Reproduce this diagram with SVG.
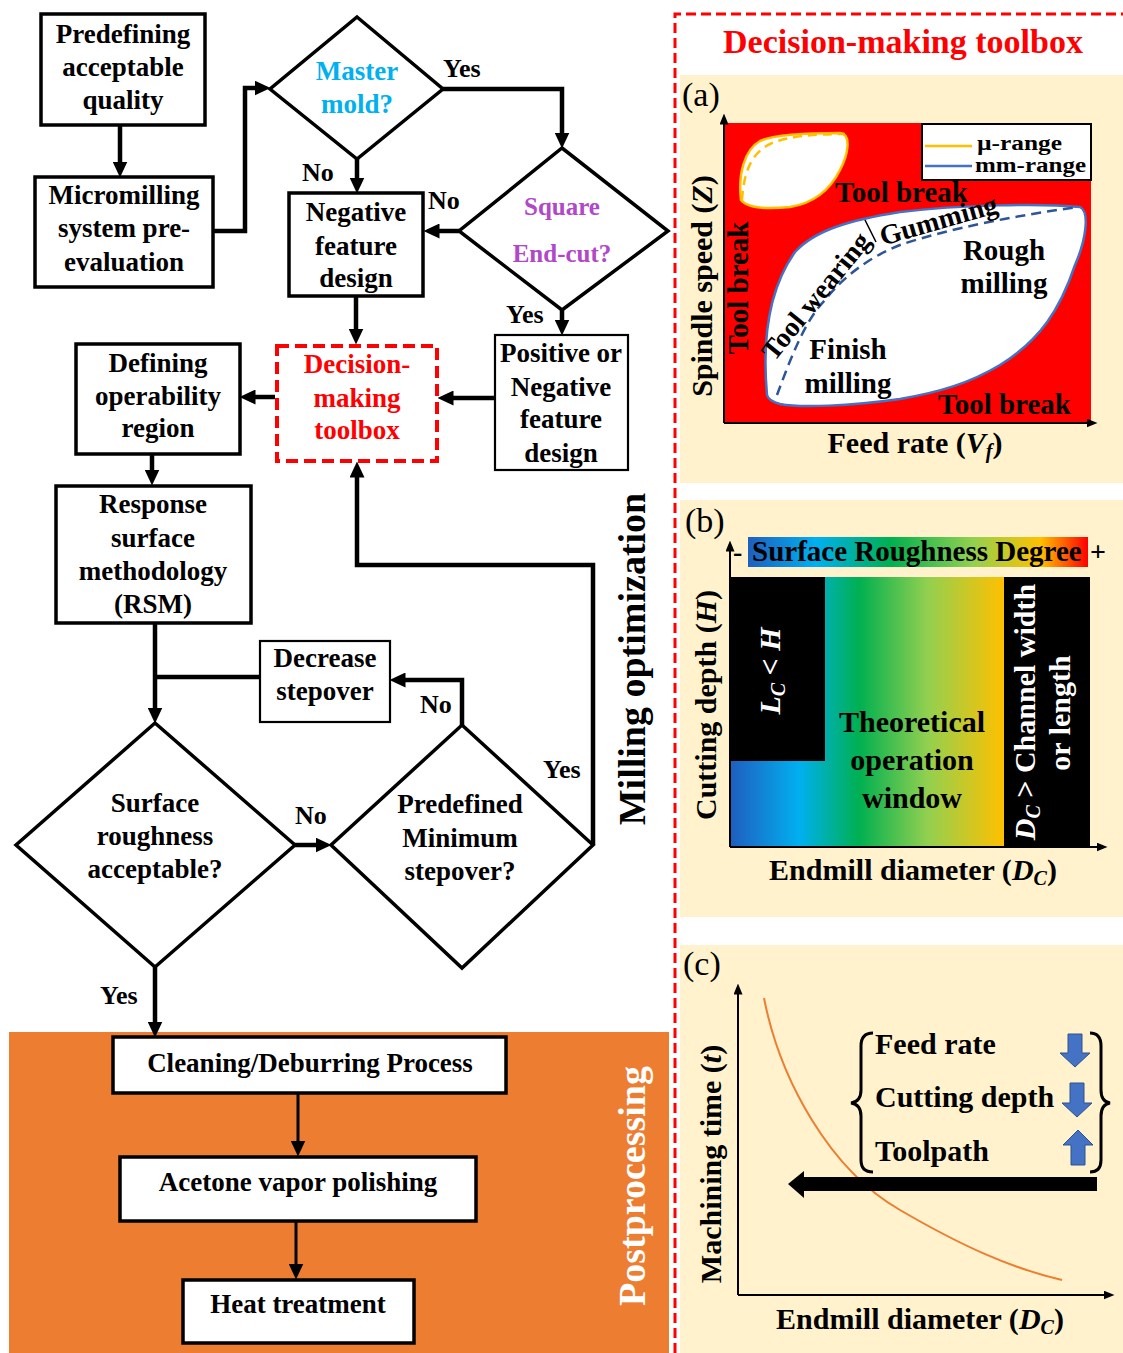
<svg xmlns="http://www.w3.org/2000/svg" width="1123" height="1353" viewBox="0 0 1123 1353">
<style>
.box{fill:#fff;stroke:#000;stroke-width:3.5}
.thin{stroke-width:2.2}
.dia{fill:#fff;stroke:#000;stroke-width:3.5}
.t{font-family:"Liberation Serif","Times New Roman",serif;font-weight:bold;font-size:27px;text-anchor:middle;fill:#000}
.l{font-family:"Liberation Serif","Times New Roman",serif;font-weight:bold;font-size:26px;fill:#000}
.p{font-family:"Liberation Serif","Times New Roman",serif;font-weight:bold;font-size:29px;fill:#000}
.ax{font-family:"Liberation Serif","Times New Roman",serif;font-weight:bold;font-size:30px;fill:#000;text-anchor:middle}
.pl{font-family:"Liberation Serif","Times New Roman",serif;font-size:34px;fill:#000}
.c{fill:none;stroke:#000;stroke-width:4.5}
.c2{fill:none;stroke:#000;stroke-width:3}
.axis{fill:none;stroke:#000;stroke-width:2}
.bg{fill:#FFF2CC}
</style>
<defs>
<marker id="ah" markerUnits="userSpaceOnUse" markerWidth="16" markerHeight="15" viewBox="0 0 16 15" refX="0.5" refY="7.5" orient="auto"><path d="M0,0 L16,7.5 L0,15 Z" fill="#000"/></marker>
<marker id="sa" markerUnits="userSpaceOnUse" markerWidth="11" markerHeight="9" viewBox="0 0 11 9" refX="0.5" refY="4.5" orient="auto"><path d="M0,0 L11,4.5 L0,9 Z" fill="#000"/></marker>
<linearGradient id="gbar" x1="0" y1="0" x2="1" y2="0">
<stop offset="0" stop-color="#1F5FBF"/><stop offset="0.2" stop-color="#00B0F0"/><stop offset="0.42" stop-color="#00B050"/><stop offset="0.66" stop-color="#92D050"/><stop offset="0.86" stop-color="#FFC000"/><stop offset="1" stop-color="#FF0000"/>
</linearGradient>
<linearGradient id="gwin" x1="731" y1="0" x2="1004" y2="0" gradientUnits="userSpaceOnUse">
<stop offset="0" stop-color="#1F5FBF"/><stop offset="0.25" stop-color="#00B0F0"/><stop offset="0.47" stop-color="#00B050"/><stop offset="0.72" stop-color="#92D050"/><stop offset="1" stop-color="#FFC000"/>
</linearGradient>
</defs>

<!-- postprocessing background -->
<rect x="9" y="1032" width="660" height="321" fill="#ED7D31"/>
<text class="t" transform="translate(645,1186) rotate(-90)" style="font-size:38px;fill:#fff">Postprocessing</text>
<text class="t" transform="translate(645,659) rotate(-90)" style="font-size:38px">Milling optimization</text>

<!-- connectors -->
<g id="connectors">
<path class="c" d="M120,126 V162" marker-end="url(#ah)"/>
<path class="c" d="M213,231 H245 V88 H255" marker-end="url(#ah)"/>
<path class="c" d="M443,89 H562 V133" marker-end="url(#ah)"/>
<path class="c" d="M357,159 V178" marker-end="url(#ah)"/>
<path class="c" d="M459,231 H439" marker-end="url(#ah)"/>
<path class="c" d="M562,310 V320" marker-end="url(#ah)"/>
<path class="c" d="M356,296 V329" marker-end="url(#ah)"/>
<path class="c" d="M495,398 H453" marker-end="url(#ah)"/>
<path class="c" d="M275,397 H255" marker-end="url(#ah)"/>
<path class="c" d="M152,454 V470" marker-end="url(#ah)"/>
<path class="c" d="M155,623 V708" marker-end="url(#ah)"/>
<path class="c" d="M260,677 H155"/>
<path class="c" d="M462,725 V680 H405" marker-end="url(#ah)"/>
<path class="c" d="M295,845 H316" marker-end="url(#ah)"/>
<path class="c" d="M593,845 V565 H357 V477" marker-end="url(#ah)"/>
<path class="c" d="M155,967 V1022" marker-end="url(#ah)"/>
<path class="c2" d="M298,1093 V1141" marker-end="url(#ah)"/>
<path class="c2" d="M296,1221 V1264" marker-end="url(#ah)"/>
</g>

<!-- nodes -->
<g id="n-predefining">
<rect class="box" x="41" y="14" width="164" height="111"/>
<text class="t" x="123" y="43">Predefining</text><text class="t" x="123" y="76">acceptable</text><text class="t" x="123" y="109">quality</text>
</g>
<g id="n-micromilling">
<rect class="box" x="35" y="177" width="178" height="110"/>
<text class="t" x="124" y="204">Micromilling</text><text class="t" x="124" y="237">system pre-</text><text class="t" x="124" y="271">evaluation</text>
</g>
<g id="n-master">
<path class="dia" d="M357,17 L443,89 L357,159 L270,89 Z"/>
<text class="t" x="357" y="80" style="fill:#00B0F0">Master</text><text class="t" x="357" y="113" style="fill:#00B0F0">mold?</text>
</g>
<g id="n-square">
<path class="dia" d="M562,148 L668,231 L562,310 L459,231 Z"/>
<text class="t" x="562" y="215" style="fill:#B048C8;font-size:25px">Square</text><text class="t" x="562" y="262" style="fill:#B048C8;font-size:25px">End-cut?</text>
</g>
<g id="n-negative">
<rect class="box" x="289" y="193" width="134" height="103"/>
<text class="t" x="356" y="221">Negative</text><text class="t" x="356" y="255">feature</text><text class="t" x="356" y="287">design</text>
</g>
<g id="n-positive">
<rect class="box thin" x="495" y="335" width="133" height="135"/>
<text class="t" x="561" y="362">Positive or</text><text class="t" x="561" y="396">Negative</text><text class="t" x="561" y="428">feature</text><text class="t" x="561" y="462">design</text>
</g>
<g id="n-toolbox">
<rect x="277" y="346" width="160" height="115" fill="#fff" stroke="#FF0000" stroke-width="4" stroke-dasharray="12,6"/>
<text class="t" x="357" y="373" style="fill:#FF0000">Decision-</text><text class="t" x="357" y="407" style="fill:#FF0000">making</text><text class="t" x="357" y="439" style="fill:#FF0000">toolbox</text>
</g>
<g id="n-defining">
<rect class="box" x="76" y="344" width="164" height="110"/>
<text class="t" x="158" y="372">Defining</text><text class="t" x="158" y="405">operability</text><text class="t" x="158" y="437">region</text>
</g>
<g id="n-rsm">
<rect class="box" x="56" y="486" width="195" height="137"/>
<text class="t" x="153" y="513">Response</text><text class="t" x="153" y="547">surface</text><text class="t" x="153" y="580">methodology</text><text class="t" x="153" y="613">(RSM)</text>
</g>
<g id="n-decrease">
<rect class="box thin" x="260" y="641" width="130" height="81"/>
<text class="t" x="325" y="667">Decrease</text><text class="t" x="325" y="700">stepover</text>
</g>
<g id="n-surface">
<path class="dia" d="M155,723 L295,845 L155,967 L16,845 Z"/>
<text class="t" x="155" y="812">Surface</text><text class="t" x="155" y="845">roughness</text><text class="t" x="155" y="878">acceptable?</text>
</g>
<g id="n-predefined">
<path class="dia" d="M462,725 L593,845 L462,968 L331,845 Z"/>
<text class="t" x="460" y="813">Predefined</text><text class="t" x="460" y="847">Minimum</text><text class="t" x="460" y="880">stepover?</text>
</g>
<g id="n-cleaning">
<rect class="box" x="113" y="1037" width="393" height="56"/>
<text class="t" x="310" y="1072">Cleaning/Deburring Process</text>
</g>
<g id="n-acetone">
<rect class="box" x="120" y="1157" width="356" height="64"/>
<text class="t" x="298" y="1191">Acetone vapor polishing</text>
</g>
<g id="n-heat">
<rect class="box" x="183" y="1280" width="231" height="63"/>
<text class="t" x="298" y="1313">Heat treatment</text>
</g>

<!-- yes/no labels -->
<g id="labels">
<text class="l" x="443" y="77">Yes</text>
<text class="l" x="302" y="181">No</text>
<text class="l" x="428" y="209">No</text>
<text class="l" x="506" y="323">Yes</text>
<text class="l" x="420" y="713">No</text>
<text class="l" x="543" y="778">Yes</text>
<text class="l" x="295" y="824">No</text>
<text class="l" x="100" y="1004">Yes</text>
</g>

<!-- right panel -->
<g id="toolbox-panel">
<path d="M675,1353 V14 H1123" fill="none" stroke="#FF0000" stroke-width="3" stroke-dasharray="10,5"/>
<text class="t" x="903" y="53" style="font-size:34px;fill:#FF0000">Decision-making toolbox</text>

<!-- (a) -->
<rect class="bg" x="680" y="75" width="443" height="408"/>
<text class="pl" x="682" y="106">(a)</text>
<rect x="724" y="123" width="367" height="300" fill="#FF0000"/>
<path d="M741,200 C738,175 744,150 760,141 C775,134 810,133 840,133 C852,134 848,155 840,170 C830,190 815,203 790,207 C770,209 748,209 741,200 Z" fill="#fff" stroke="#FFC000" stroke-width="2.5"/>
<path d="M742,200 C744,170 752,152 772,143 C790,136 815,134 845,134" fill="none" stroke="#FFC000" stroke-width="2.5" stroke-dasharray="9,6"/>
<path d="M767,395 C762,340 768,290 795,252 C815,230 850,220 900,212 C960,205 1040,203 1080,207 C1090,212 1086,240 1075,265 C1060,310 1040,340 1000,365 C970,383 940,392 900,399 C850,406 800,408 780,404 C772,402 768,399 767,395 Z" fill="#fff" stroke="#4472C4" stroke-width="2.5"/>
<path d="M777,395 C790,360 805,320 825,300 C845,275 870,257 900,245 C950,228 1020,215 1078,207" fill="none" stroke="#2F5597" stroke-width="2.5" stroke-dasharray="10,6"/>
<line x1="865" y1="220" x2="876" y2="242" stroke="#000" stroke-width="1.5"/>
<rect x="922" y="124" width="169" height="56" fill="#fff" stroke="#000" stroke-width="2"/>
<line x1="925" y1="146" x2="972" y2="146" stroke="#FFC000" stroke-width="2.5"/>
<line x1="925" y1="166" x2="972" y2="166" stroke="#4472C4" stroke-width="2.5"/>
<text class="p" x="977" y="150" style="font-size:20px" textLength="85" lengthAdjust="spacingAndGlyphs">µ-range</text>
<text class="p" x="975" y="172" style="font-size:20px" textLength="111" lengthAdjust="spacingAndGlyphs">mm-range</text>
<text class="p" x="835" y="202">Tool break</text>
<text class="p" x="938" y="414">Tool break</text>
<text class="p" transform="translate(748,288) rotate(-90)" text-anchor="middle">Tool break</text>
<text class="p" x="1004" y="260" text-anchor="middle">Rough</text>
<text class="p" x="1004" y="293" text-anchor="middle">milling</text>
<text class="p" x="848" y="359" text-anchor="middle">Finish</text>
<text class="p" x="848" y="393" text-anchor="middle">milling</text>
<text class="p" transform="translate(823,302) rotate(-51)" text-anchor="middle" style="font-size:28px">Tool wearing</text>
<text class="p" transform="translate(941,229) rotate(-16)" text-anchor="middle" style="font-size:28px">Gumming</text>
<path class="axis" d="M724,423 V124" marker-end="url(#sa)"/>
<path class="axis" d="M724,423 H1087" marker-end="url(#sa)"/>
<text class="ax" x="915" y="453">Feed rate (<tspan font-style="italic">V</tspan><tspan font-style="italic" font-size="20" dy="5">f</tspan><tspan dy="-5">)</tspan></text>
<text class="ax" transform="translate(712,286) rotate(-90)">Spindle speed (<tspan font-style="italic">Z</tspan>)</text>

<!-- (b) -->
<rect class="bg" x="680" y="500" width="443" height="417"/>
<text class="pl" x="685" y="532">(b)</text>
<rect x="748" y="537" width="340" height="30" fill="url(#gbar)"/>
<text class="p" x="733" y="561" style="font-size:28px">-</text>
<text class="p" x="752" y="561" style="font-size:29px">Surface Roughness Degree</text>
<text class="p" x="1090" y="561" style="font-size:28px">+</text>
<rect x="731" y="577" width="359" height="270" fill="#000"/>
<rect x="731" y="577" width="273" height="270" fill="url(#gwin)"/>
<rect x="731" y="577" width="94" height="184" fill="#000"/>
<text class="ax" x="912" y="732">Theoretical</text>
<text class="ax" x="912" y="770">operation</text>
<text class="ax" x="912" y="808">window</text>
<text class="ax" transform="translate(780,671) rotate(-90)" style="fill:#fff;font-style:italic">L<tspan font-size="20" dy="5">C</tspan><tspan dy="-5"> &lt; H</tspan></text>
<text class="ax" transform="translate(1035,712) rotate(-90)" style="fill:#fff"><tspan font-style="italic">D</tspan><tspan font-style="italic" font-size="20" dy="5">C</tspan><tspan dy="-5"> &gt; Channel width</tspan></text>
<text class="ax" transform="translate(1070,713) rotate(-90)" style="fill:#fff">or length</text>
<path class="axis" d="M730,847 V551" marker-end="url(#sa)"/>
<path class="axis" d="M730,847 H1097" marker-end="url(#sa)"/>
<text class="ax" x="913" y="880">Endmill diameter (<tspan font-style="italic">D</tspan><tspan font-style="italic" font-size="20" dy="5">C</tspan><tspan dy="-5">)</tspan></text>
<text class="ax" transform="translate(716,705) rotate(-90)">Cutting depth (<tspan font-style="italic">H</tspan>)</text>

<!-- (c) -->
<rect class="bg" x="680" y="945" width="443" height="408"/>
<text class="pl" x="683" y="975">(c)</text>
<path d="M764,998 C780,1080 830,1170 900,1210 C960,1245 1010,1268 1062,1280" fill="none" stroke="#ED7D31" stroke-width="2"/>
<path d="M873,1033 C864,1033 861,1038 861,1046 L861,1090 C861,1098 858,1102 851,1103 C858,1104 861,1108 861,1116 L861,1160 C861,1167 864,1172 873,1172" fill="none" stroke="#000" stroke-width="3"/>
<path d="M1090,1033 C1098,1033 1101,1038 1101,1046 L1101,1090 C1101,1098 1104,1102 1110,1103 C1104,1104 1101,1108 1101,1116 L1101,1160 C1101,1167 1098,1172 1090,1172" fill="none" stroke="#000" stroke-width="3"/>
<text class="p" x="875" y="1054" style="font-size:30px">Feed rate</text>
<text class="p" x="875" y="1107" style="font-size:30px">Cutting depth</text>
<text class="p" x="875" y="1161" style="font-size:30px">Toolpath</text>
<path d="M1068,1034 H1082 V1053 H1090 L1075,1067 L1060,1053 H1068 Z" fill="#4472C4" stroke="#2F528F" stroke-width="1"/>
<path d="M1070,1083 H1084 V1103 H1092 L1077,1117 L1062,1103 H1070 Z" fill="#4472C4" stroke="#2F528F" stroke-width="1"/>
<path d="M1071,1165 H1085 V1145 H1093 L1078,1130 L1063,1145 H1071 Z" fill="#4472C4" stroke="#2F528F" stroke-width="1"/>
<path d="M1097,1177 V1191 H804 V1198 L788,1184 L804,1171 V1177 Z" fill="#000"/>
<path class="axis" d="M738,1295 V994" marker-end="url(#sa)"/>
<path class="axis" d="M738,1295 H1104" marker-end="url(#sa)"/>
<text class="ax" x="920" y="1329">Endmill diameter (<tspan font-style="italic">D</tspan><tspan font-style="italic" font-size="20" dy="5">C</tspan><tspan dy="-5">)</tspan></text>
<text class="ax" transform="translate(721,1164) rotate(-90)">Machining time (<tspan font-style="italic">t</tspan>)</text>
</g>
</svg>
